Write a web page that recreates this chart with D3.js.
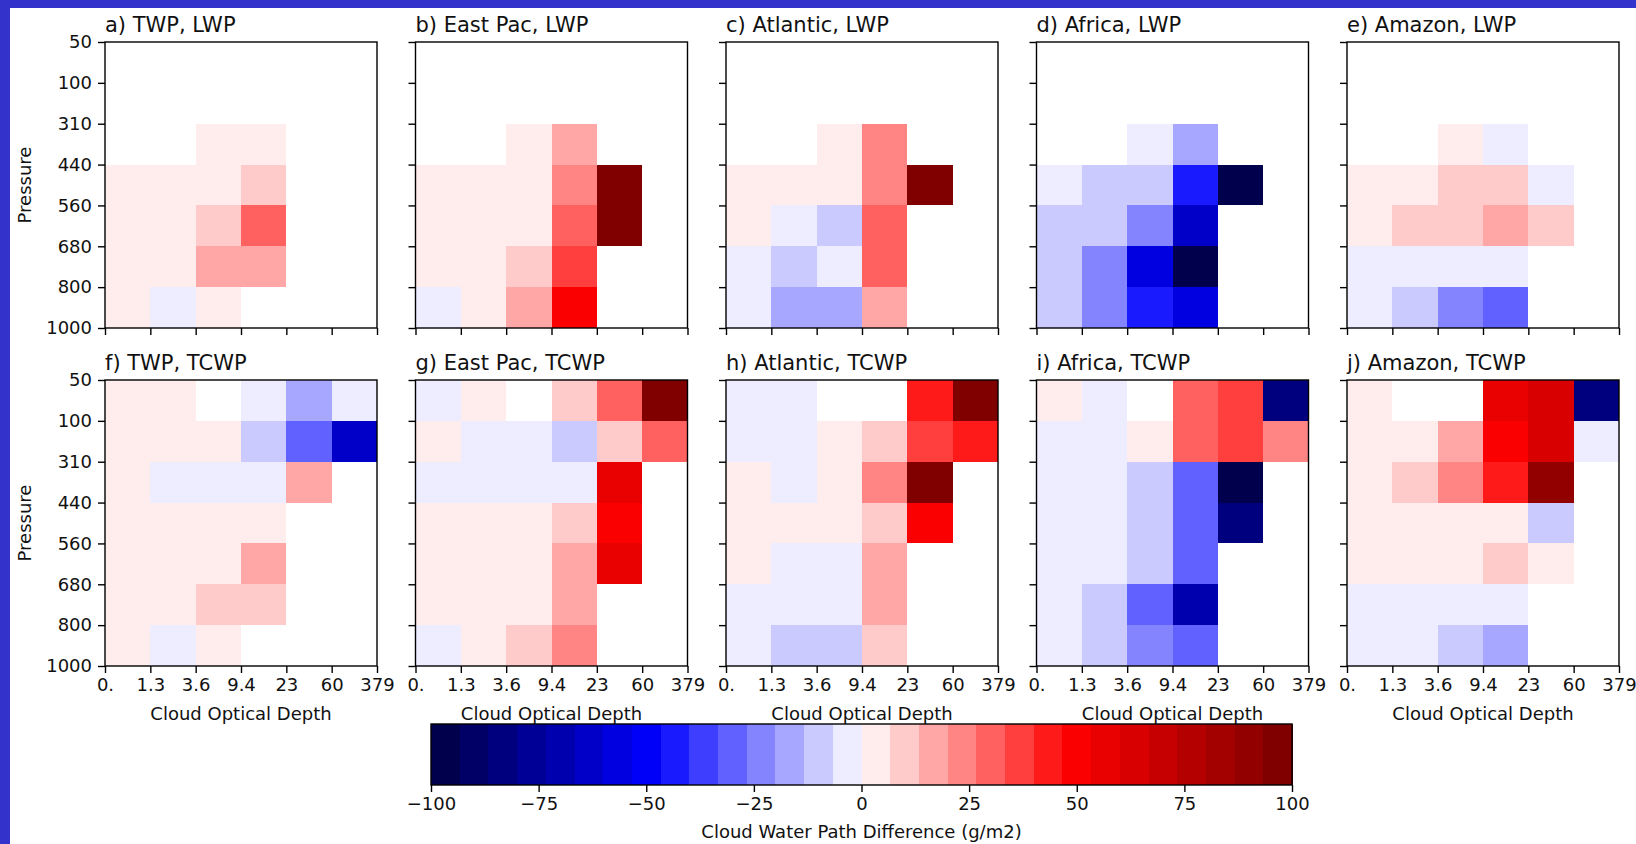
<!DOCTYPE html>
<html>
<head>
<meta charset="utf-8">
<script src="https://cdn.jsdelivr.net/npm/d3@7"></script>
<style>
body { margin: 0; background: #3333cc; }
svg { display: block; font-family: "DejaVu Sans", sans-serif; }
</style>
</head>
<body>
<div id="chart"></div>
<script>
// Width and height
var W = 1636;
var H = 844;

// bin edges (tick labels)
var tauLabels = ["0.", "1.3", "3.6", "9.4", "23", "60", "379"];
var presLabels = ["50", "100", "310", "440", "560", "680", "800", "1000"];

var panelTitles = ["a) TWP, LWP", "b) East Pac, LWP", "c) Atlantic, LWP", "d) Africa, LWP", "e) Amazon, LWP",
                   "f) TWP, TCWP", "g) East Pac, TCWP", "h) Atlantic, TCWP", "i) Africa, TCWP", "j) Amazon, TCWP"];

// cloud water path difference (g/m2), rows = pressure bins top->bottom, cols = optical depth bins
// null = no data (white)
var twpLWP = [
  [null, null, null, null, null, null],
  [null, null, null, null, null, null],
  [null, null, 3, 3, null, null],
  [3, 3, 3, 10, null, null],
  [3, 3, 10, 30, null, null],
  [3, 3, 17, 17, null, null],
  [3, -3, 3, null, null, null]
];
var eastPacLWP = [
  [null, null, null, null, null, null],
  [null, null, null, null, null, null],
  [null, null, 3, 17, null, null],
  [3, 3, 3, 24, 97, null],
  [3, 3, 3, 30, 97, null],
  [3, 3, 10, 37, null, null],
  [-3, 3, 17, 50, null, null]
];
var atlanticLWP = [
  [null, null, null, null, null, null],
  [null, null, null, null, null, null],
  [null, null, 3, 24, null, null],
  [3, 3, 3, 24, 97, null],
  [3, -3, -10, 30, null, null],
  [-3, -10, -3, 30, null, null],
  [-3, -17, -17, 17, null, null]
];
var africaLWP = [
  [null, null, null, null, null, null],
  [null, null, null, null, null, null],
  [null, null, -3, -17, null, null],
  [-3, -10, -10, -44, -97, null],
  [-10, -10, -24, -64, null, null],
  [-10, -24, -57, -97, null, null],
  [-10, -24, -44, -57, null, null]
];
var amazonLWP = [
  [null, null, null, null, null, null],
  [null, null, null, null, null, null],
  [null, null, 3, -3, null, null],
  [3, 3, 10, 10, -3, null],
  [3, 10, 10, 17, 10, null],
  [-3, -3, -3, -3, null, null],
  [-3, -10, -24, -30, null, null]
];
var twpTCWP = [
  [3, 3, null, -3, -17, -3],
  [3, 3, 3, -10, -30, -64],
  [3, -3, -3, -3, 17, null],
  [3, 3, 3, 3, null, null],
  [3, 3, 3, 17, null, null],
  [3, 3, 10, 10, null, null],
  [3, -3, 3, null, null, null]
];
var eastPacTCWP = [
  [-3, 3, null, 10, 30, 97],
  [3, -3, -3, -10, 10, 30],
  [-3, -3, -3, -3, 57, null],
  [3, 3, 3, 10, 50, null],
  [3, 3, 3, 17, 57, null],
  [3, 3, 3, 17, null, null],
  [-3, 3, 10, 24, null, null]
];
var atlanticTCWP = [
  [-3, -3, null, null, 44, 97],
  [-3, -3, 3, 10, 37, 44],
  [3, -3, 3, 24, 97, null],
  [3, 3, 3, 10, 50, null],
  [3, -3, -3, 17, null, null],
  [-3, -3, -3, 17, null, null],
  [-3, -10, -10, 10, null, null]
];
var africaTCWP = [
  [3, -3, null, 30, 37, -84],
  [-3, -3, 3, 30, 37, 24],
  [-3, -3, -10, -30, -97, null],
  [-3, -3, -10, -30, -84, null],
  [-3, -3, -10, -30, null, null],
  [-3, -10, -30, -70, null, null],
  [-3, -10, -24, -30, null, null]
];
var amazonTCWP = [
  [3, null, null, 57, 64, -84],
  [3, 3, 17, 50, 64, -3],
  [3, 10, 24, 44, 90, null],
  [3, 3, 3, 3, -10, null],
  [3, 3, 3, 10, 3, null],
  [-3, -3, -3, -3, null, null],
  [-3, -3, -10, -17, null, null]
];

var panelData = [twpLWP, eastPacLWP, atlanticLWP, africaLWP, amazonLWP,
                 twpTCWP, eastPacTCWP, atlanticTCWP, africaTCWP, amazonTCWP];

// colorbar
var cbTicks = [-100, -75, -50, -25, 0, 25, 50, 75, 100];
var nLevels = 30;

// seismic colormap, discretised
var seismic = d3.scaleLinear()
  .domain([0, 0.25, 0.5, 0.75, 1])
  .range(["rgb(0,0,77)", "rgb(0,0,255)", "rgb(255,255,255)", "rgb(255,0,0)", "rgb(128,0,0)"])
  .interpolate(d3.interpolateRgb);
var levelColors = d3.range(nLevels).map(function(j) { return seismic(j / (nLevels - 1)); });
var color = d3.scaleQuantize().domain([-100, 100]).range(levelColors);

// layout
var axW = 272, axH = 286;
var colLeft = [105, 415.5, 726, 1036.5, 1347];
var rowTop = [42, 380];

var xScale = d3.scalePoint().domain(tauLabels).range([0, axW]);
var yScale = d3.scalePoint().domain(presLabels).range([0, axH]);

var svg = d3.select("#chart")
  .append("svg")
  .attr("width", W)
  .attr("height", H);

svg.append("rect").attr("width", W).attr("height", H).attr("fill", "#3333cc");
svg.append("rect").attr("x", 10).attr("y", 8).attr("width", W - 10).attr("height", H - 8).attr("fill", "white");

panelData.forEach(function(grid, i) {
  var col = i % 5, row = Math.floor(i / 5);
  var g = svg.append("g")
    .attr("transform", "translate(" + colLeft[col] + "," + rowTop[row] + ")");

  var cells = [];
  grid.forEach(function(r, ri) {
    r.forEach(function(v, ci) {
      if (v !== null) cells.push({ r: ri, c: ci, v: v });
    });
  });

  g.selectAll(".cell")
    .data(cells)
    .enter()
    .append("rect")
    .attr("class", "cell")
    .attr("x", function(d) { return xScale(tauLabels[d.c]); })
    .attr("width", function(d) { return xScale(tauLabels[d.c + 1]) - xScale(tauLabels[d.c]); })
    .attr("y", function(d) { return yScale(presLabels[d.r]); })
    .attr("height", function(d) { return yScale(presLabels[d.r + 1]) - yScale(presLabels[d.r]); })
    .attr("fill", function(d) { return color(d.v); })
    .attr("shape-rendering", "crispEdges");

  // axes (labels only on outer panels)
  var yAxis = d3.axisLeft(yScale).tickSize(7).tickPadding(6);
  if (col > 0) yAxis.tickFormat("");
  var xAxis = d3.axisBottom(xScale).tickSize(7).tickPadding(5);
  if (row === 0) xAxis.tickFormat("");

  var ya = g.append("g").call(yAxis);
  var xa = g.append("g").attr("transform", "translate(0," + axH + ")").call(xAxis);
  [ya, xa].forEach(function(a) {
    a.select(".domain").remove();
    a.selectAll("line").attr("stroke", "#000").attr("stroke-width", 1.4);
    a.selectAll("text").attr("font-size", 18).attr("font-family", "DejaVu Sans").attr("fill", "#111");
  });

  // frame
  g.append("rect")
    .attr("width", axW)
    .attr("height", axH)
    .attr("fill", "none")
    .attr("stroke", "#000")
    .attr("stroke-width", 1.4);

  // title
  g.append("text")
    .attr("x", 0)
    .attr("y", -10)
    .attr("font-size", 21)
    .attr("fill", "#111")
    .text(panelTitles[i]);

  if (col === 0) {
    g.append("text")
      .attr("transform", "translate(-74," + (axH / 2) + ") rotate(-90)")
      .attr("text-anchor", "middle")
      .attr("font-size", 18)
      .attr("fill", "#111")
      .text("Pressure");
  }
  if (row === 1) {
    g.append("text")
      .attr("x", axW / 2)
      .attr("y", axH + 54)
      .attr("text-anchor", "middle")
      .attr("font-size", 18)
      .attr("fill", "#111")
      .text("Cloud Optical Depth");
  }
});

// colorbar
var cbX = d3.scaleLinear().domain([-100, 100]).range([431, 1292]);
var cbTop = 724, cbH = 61;
var step = 200 / nLevels;

var cb = svg.append("g");
cb.selectAll(".seg")
  .data(levelColors)
  .enter()
  .append("rect")
  .attr("class", "seg")
  .attr("x", function(d, j) { return cbX(-100 + j * step); })
  .attr("width", function(d, j) { return cbX(-100 + (j + 1) * step) - cbX(-100 + j * step) + 0.5; })
  .attr("y", cbTop)
  .attr("height", cbH)
  .attr("fill", function(d) { return d; })
  .attr("shape-rendering", "crispEdges");

cb.append("rect")
  .attr("x", cbX(-100))
  .attr("y", cbTop)
  .attr("width", cbX(100) - cbX(-100))
  .attr("height", cbH)
  .attr("fill", "none")
  .attr("stroke", "#000")
  .attr("stroke-width", 1.4);

var cbAxis = cb.append("g")
  .attr("transform", "translate(0," + (cbTop + cbH) + ")")
  .call(d3.axisBottom(cbX).tickValues(cbTicks).tickSize(7).tickPadding(5));
cbAxis.select(".domain").remove();
cbAxis.selectAll("line").attr("stroke", "#000").attr("stroke-width", 1.4);
cbAxis.selectAll("text").attr("font-size", 18).attr("font-family", "DejaVu Sans").attr("fill", "#111");

cb.append("text")
  .attr("x", cbX(0))
  .attr("y", 838)
  .attr("text-anchor", "middle")
  .attr("font-size", 18)
  .attr("fill", "#111")
  .text("Cloud Water Path Difference (g/m2)");
</script>
</body>
</html>
